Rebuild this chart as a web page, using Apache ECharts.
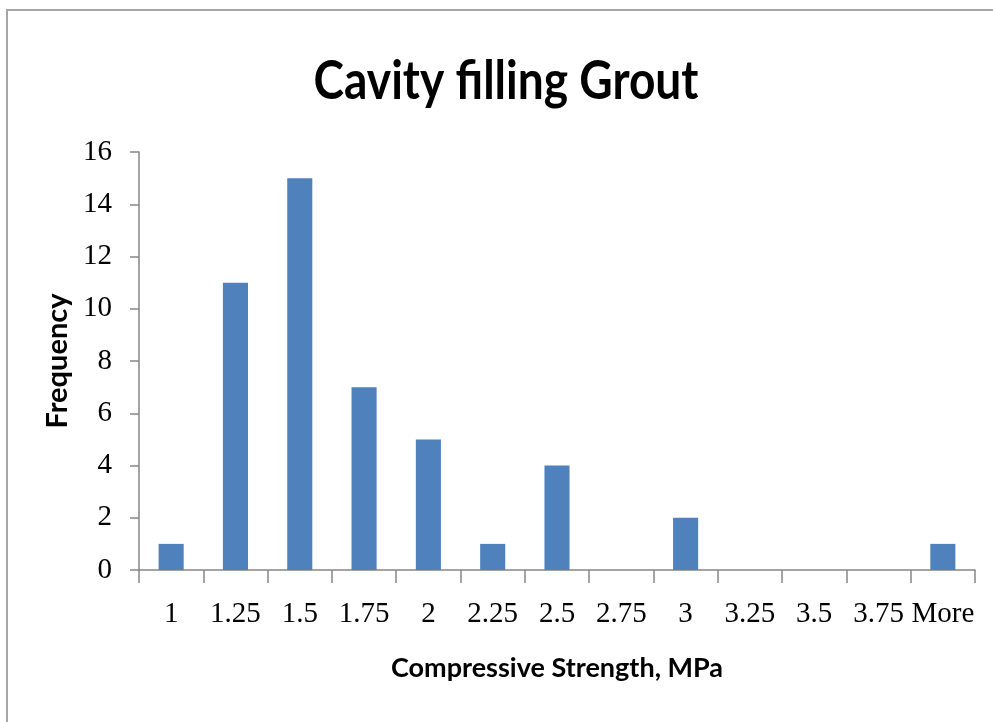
<!DOCTYPE html>
<html>
<head>
<meta charset="utf-8">
<script src="https://cdn.jsdelivr.net/npm/echarts@6/dist/echarts.min.js"></script>
<style>
html,body{margin:0;padding:0;background:#fff;}
#chart{width:993px;height:722px;}
</style>
</head>
<body>
<div id="chart"></div>
<script>
const categories = ['1', '1.25', '1.5', '1.75', '2', '2.25', '2.5', '2.75', '3', '3.25', '3.5', '3.75', 'More'];
const frequency = [1, 11, 15, 7, 5, 1, 4, 0, 2, 0, 0, 0, 1];
const yTicks = [0, 2, 4, 6, 8, 10, 12, 14, 16];
const titleText = 'Cavity filling Grout';

const sansFamily = 'Lato, "Open Sans", sans-serif';
const serif = '"Liberation Serif", "DejaVu Serif", serif';
const axisGray = '#868686';

// condense the title like the narrow original typeface
const titleSize = 54;
const titleTargetWidth = 385;
const cv = document.createElement('canvas').getContext('2d');
cv.font = 'bold ' + titleSize + 'px ' + sansFamily;
const titleScaleX = Math.min(1, titleTargetWidth / cv.measureText(titleText).width);

const chart = echarts.init(document.getElementById('chart'), null, {renderer: 'canvas'});
chart.setOption({
  animation: false,
  backgroundColor: '#ffffff',
  graphic: [
    {type: 'line', shape: {x1: 7, y1: 10, x2: 7, y2: 722}, style: {stroke: '#a6a6a6', lineWidth: 2}},
    {type: 'line', shape: {x1: 6, y1: 10, x2: 993, y2: 10}, style: {stroke: '#a6a6a6', lineWidth: 2}},
    {
      type: 'text', x: 506, y: 82, scaleX: titleScaleX, originX: 0, originY: 0,
      style: {
        text: titleText, fontFamily: sansFamily, fontWeight: 'bold', fontSize: titleSize,
        fill: '#000', align: 'center', verticalAlign: 'middle'
      }
    }
  ],
  grid: {left: 139, right: 18, top: 152, bottom: 152, containLabel: false},
  xAxis: {
    type: 'category',
    data: categories,
    boundaryGap: true,
    name: 'Compressive Strength, MPa',
    nameLocation: 'middle',
    nameGap: 85,
    nameTextStyle: {fontFamily: sansFamily, fontWeight: 'bold', fontSize: 27, color: '#000'},
    axisLine: {lineStyle: {color: axisGray, width: 1.5}},
    axisTick: {show: true, length: 13, alignWithLabel: false, lineStyle: {color: axisGray, width: 1.5}},
    axisLabel: {fontFamily: serif, fontSize: 29, color: '#000', margin: 30, interval: 0}
  },
  yAxis: {
    type: 'value',
    min: 0,
    max: 16,
    interval: 2,
    name: 'Frequency',
    nameLocation: 'middle',
    nameGap: 66,
    nameRotate: 90,
    nameTextStyle: {fontFamily: sansFamily, fontWeight: 'bold', fontSize: 29, color: '#000'},
    axisLine: {show: true, lineStyle: {color: axisGray, width: 1.5}},
    axisTick: {show: true, length: 9, lineStyle: {color: axisGray, width: 1.5}},
    splitLine: {show: false},
    axisLabel: {
      fontFamily: serif, fontSize: 29, color: '#000', margin: 27,
      formatter: function (v) { return yTicks.indexOf(v) >= 0 ? String(v) : ''; }
    }
  },
  series: [{
    type: 'bar',
    data: frequency,
    barCategoryGap: '61%',
    itemStyle: {color: '#4f81bd'}
  }]
});
</script>
</body>
</html>
